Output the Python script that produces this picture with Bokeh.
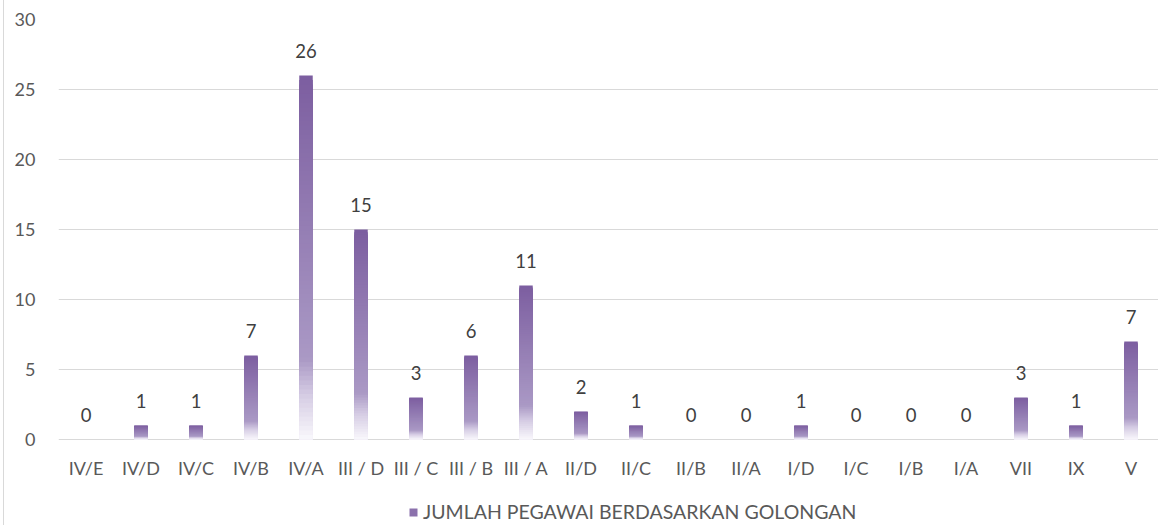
from bokeh.plotting import figure
from bokeh.models import (ColumnDataSource, FactorRange, Range1d, LabelSet,
                          Legend, LegendItem)
from bokeh.core.properties import value
from bokeh.embed import file_html
from bokeh.resources import INLINE

# ---- data -------------------------------------------------------------
categories = ["IV/E", "IV/D", "IV/C", "IV/B", "IV/A", "III / D", "III / C",
              "III / B", "III / A", "II/D", "II/C", "II/B", "II/A", "I/D",
              "I/C", "I/B", "I/A", "VII", "IX", "V"]
bar_values = [0, 1, 1, 6, 26, 15, 3, 6, 11, 2, 1, 0, 0, 1, 0, 0, 0, 3, 1, 7]
label_texts = ["0", "1", "1", "7", "26", "15", "3", "6", "11", "2", "1", "0",
               "0", "1", "0", "0", "0", "3", "1", "7"]
series_name = "JUMLAH PEGAWAI BERDASARKAN GOLONGAN"
y_ticks = [0, 5, 10, 15, 20, 25, 30]
y_max = 30

FONT = "Lato"
TEXT = "#595959"

# ---- layout (pixels) ---------------------------------------------------
H = 525
TOP = 19          # space above the 30 gridline
PLOT_H = 420      # 0 .. 30 span
BELOW = H - TOP - PLOT_H   # room for category labels + legend

# ---- gradient (top -> bottom of each bar) ----------------------------
stops = [(0.0, (124, 94, 160)), (0.78, (170, 153, 197)),
         (0.88, (214, 205, 228)), (1.0, (249, 248, 252))]


def grad_color(f):
    for (f0, c0), (f1, c1) in zip(stops[:-1], stops[1:]):
        if f <= f1:
            t = (f - f0) / (f1 - f0) if f1 > f0 else 0
            c = [round(a + (b - a) * t) for a, b in zip(c0, c1)]
            return "#%02x%02x%02x" % tuple(c)
    return "#%02x%02x%02x" % stops[-1][1]


# each bar is painted as overlapping layers from 0 up to a shrinking top,
# darkest (full height) first, so the visible bands form a smooth gradient
N = 80
xs, tops, colors = [], [], []
for cat, v in zip(categories, bar_values):
    for k in range(N):
        xs.append(cat)
        tops.append(v * (1 - k / N))
        colors.append(grad_color((k + 0.5) / N))
slices = ColumnDataSource(dict(x=xs, top=tops, color=colors))

y_start = -y_max * BELOW / PLOT_H
p = figure(width=1155, height=H, output_backend="svg", toolbar_location=None,
           x_range=FactorRange(*categories, range_padding=0),
           y_range=Range1d(y_start, y_max),
           styles={"margin-left": "3px", "border-left": "1px solid #d9d9d9"})
p.min_border_left = 54
p.min_border_right = 1
p.min_border_top = TOP
p.min_border_bottom = 0
p.outline_line_color = None
p.background_fill_color = "white"
p.border_fill_color = "white"

r = p.vbar(x="x", top="top", bottom=0, width=0.245, source=slices,
           fill_color="color", line_color=None)

labels = ColumnDataSource(dict(x=categories, y=bar_values, t=label_texts))
p.add_layout(LabelSet(x="x", y="y", text="t", source=labels, y_offset=18,
                      text_align="center", text_baseline="alphabetic",
                      text_font=value(FONT), text_font_size=value("18.5px"),
                      text_color="#404040"))

# category labels under the zero line
cats = ColumnDataSource(dict(x=categories, y=[0] * len(categories),
                             t=categories))
p.add_layout(LabelSet(x="x", y="y", text="t", source=cats, y_offset=-28,
                      text_align="center", text_baseline="middle",
                      text_font=value(FONT), text_font_size=value("18px"),
                      text_color=TEXT))

# axes
p.xaxis.visible = False
p.yaxis.ticker = y_ticks
p.yaxis.axis_line_color = None
p.yaxis.major_tick_line_color = None
p.yaxis.minor_tick_line_color = None
p.yaxis.major_label_standoff = 17
p.yaxis.major_label_text_font = FONT
p.yaxis.major_label_text_font_size = "18px"
p.yaxis.major_label_text_color = TEXT

p.xgrid.grid_line_color = None
p.ygrid.ticker = y_ticks
p.ygrid.grid_line_color = "#d9d9d9"
p.ygrid.grid_line_width = 1

legend = Legend(items=[LegendItem(label=series_name, renderers=[r], index=20)],
                location=(350, 2), orientation="horizontal",
                glyph_width=10, glyph_height=10, label_standoff=5,
                padding=0, margin=0, spacing=0, label_height=20,
                label_text_font=FONT, label_text_font_size="19.5px",
                label_text_color=TEXT, border_line_color=None,
                background_fill_alpha=0)
p.add_layout(legend, "center")

open("out.html", "w").write(file_html(p, INLINE))
